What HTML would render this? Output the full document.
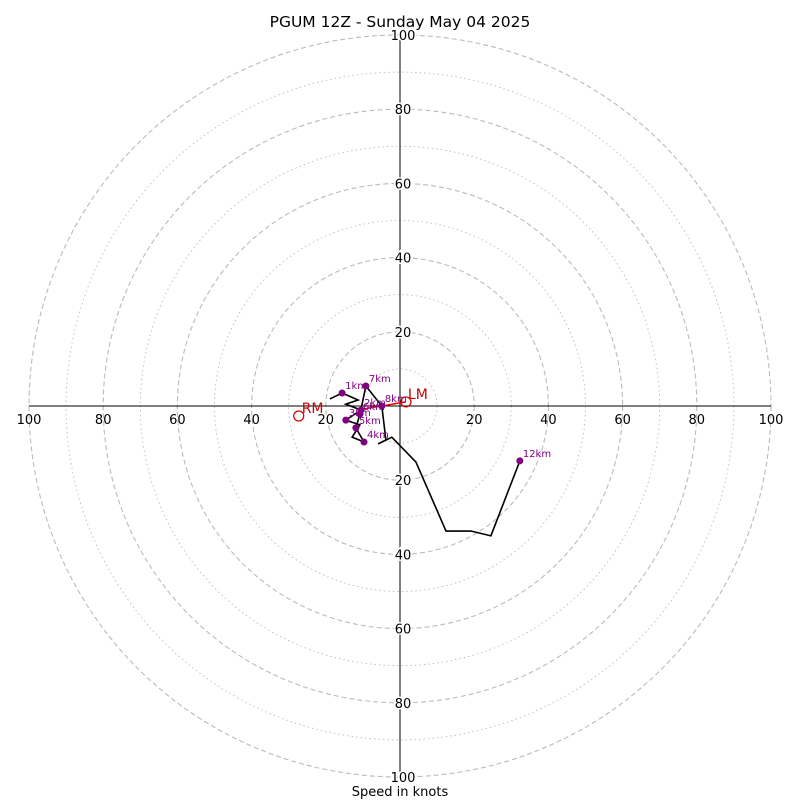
<!DOCTYPE html>
<html><head><meta charset="utf-8"><style>
body{margin:0;background:#fff}
svg{font-family:"DejaVu Sans","Liberation Sans",sans-serif}
</style></head><body>
<svg id="c" width="800" height="800">
<text x="400" y="27" text-anchor="middle" font-size="15.5">PGUM 12Z - Sunday May 04 2025</text>
<text x="400" y="796" text-anchor="middle" font-size="13">Speed in knots</text>
<g id="rings"></g><g id="axes"></g><g id="series"></g>
</svg>
<script>
const ringValues=[10,20,30,40,50,60,70,80,90,100];
const tickLabels=[20,40,60,80,100];
const uWind=[-18.9,-15.6,-11.3,-14.6,-10.5,-14.6,-10.8,-12.9,-9.7,-11.9,-10.8,-9.2,-4.9,-3.8,-5.9,-2.2,4.3,12.4,19.1,24.5,32.3];
const vWind=[1.9,3.5,1.6,0.5,-1.1,-3.8,-5.1,-8.4,-9.7,-5.9,-2.2,5.4,0,-9.2,-10.2,-8.4,-15.1,-33.7,-33.7,-35,-14.8];
const kmLabels=["","1km","","","2km","3km","","","4km","5km","6km","7km","8km","","","","","","","","12km"];
const rmMotion=[-27.3,-2.7], lmMotion=[1.6,1.1], meanWind=[-11,-1];
const NS="http://www.w3.org/2000/svg";
const cx=400,cy=406,k=3.71;
const X=u=>cx+u*k, Y=v=>cy-v*k;
function mk(t,a,p){const e=document.createElementNS(NS,t);for(const n in a)e.setAttribute(n,a[n]);p.appendChild(e);return e;}
const rings=document.getElementById('rings'),axes=document.getElementById('axes'),ser=document.getElementById('series');
ringValues.forEach(r=>{
 const c=mk('circle',{cx:cx,cy:cy,r:r*k,fill:'none',stroke:'#bbb','stroke-width':r%20?0.9:1.1,'stroke-dasharray':r%20?'1.5,3':'5,3'},rings);
 
 
});
let l=mk('line',{x1:X(-100),y1:cy,x2:X(100),y2:cy,stroke:'#000'},axes);


l=mk('line',{x1:cx,y1:Y(100),x2:cx,y2:Y(-100),stroke:'#000'},axes);


tickLabels.forEach(t=>{
 [[X(-t),cy+18],[X(t),cy+18]].forEach(p=>{const e=mk('text',{x:p[0],y:p[1],'text-anchor':'middle','font-size':13},axes);e.textContent=t;
 
 });
 [[cx+3,Y(t)+5],[cx+3,Y(-t)+5]].forEach(p=>{const e=mk('text',{x:p[0],y:p[1],'text-anchor':'middle','font-size':13,fill:'#000',stroke:'#fff','stroke-width':3,'paint-order':'stroke'},axes);e.textContent=t;
 
 });
});
const pts=uWind.map((u,i)=>X(u)+','+Y(vWind[i])).join(' ');
l=mk('polyline',{points:pts,fill:'none',stroke:'#000','stroke-width':1.6},ser);


l=mk('line',{x1:X(meanWind[0]),y1:Y(meanWind[1]),x2:X(lmMotion[0]),y2:Y(lmMotion[1]),stroke:'#e00','stroke-width':1.5},ser);


kmLabels.forEach((s,i)=>{if(!s)return;
 const d=mk('circle',{cx:X(uWind[i]),cy:Y(vWind[i]),r:3.5,fill:'#800080'},ser);
 
 
 const t=mk('text',{x:X(uWind[i])+3,y:Y(vWind[i])-4,'font-size':10,fill:'#800080'},ser);t.textContent=s;
 
 
});
[[rmMotion,'RM',-1],[lmMotion,'LM',1]].forEach(m=>{
 const c=mk('circle',{cx:X(m[0][0]),cy:Y(m[0][1]),r:5,fill:'none',stroke:'#c00','stroke-width':1.2},ser);
 
 
 const t=mk('text',{x:X(m[0][0])+(m[2]>0?2:3),y:Y(m[0][1])-3,'font-size':14,fill:'#c00'},ser);t.textContent=m[1];
 
 
});
</script>
</body></html>
